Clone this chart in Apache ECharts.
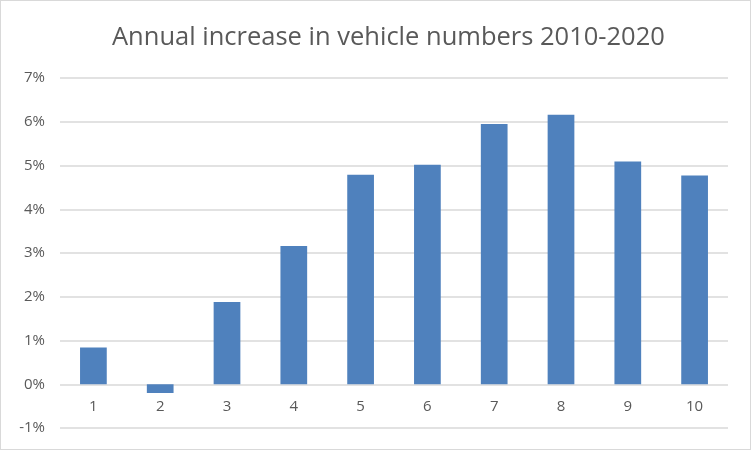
<!DOCTYPE html>
<html>
<head>
<meta charset="utf-8">
<script src="https://cdn.jsdelivr.net/npm/echarts@6/dist/echarts.min.js"></script>
<style>
html,body{margin:0;padding:0;background:#fff;}
#chart{width:752px;height:452px;position:absolute;left:0;top:0;}
#frame{position:absolute;left:0;top:0;width:749px;height:448px;border:1.5px solid #d9d9d9;pointer-events:none;}
</style>
</head>
<body>
<div id="chart"></div>
<div id="frame"></div>
<script>
const titleText = 'Annual increase in vehicle numbers 2010-2020';
const categories = ['1','2','3','4','5','6','7','8','9','10'];
const increasePct = [0.84, -0.2, 1.88, 3.16, 4.79, 5.02, 5.95, 6.16, 5.09, 4.77];
const yTicks = {min: -1, max: 7, interval: 1};

const chart = echarts.init(document.getElementById('chart'));
chart.setOption({
  animation: false,
  backgroundColor: '#ffffff',
  title: {
    text: titleText,
    left: 107,
    top: 20,
    textStyle: {fontFamily: 'Open Sans', fontSize: 25.5, fontWeight: 'normal', color: '#595959'}
  },
  grid: {left: 60, right: 24, top: 78, bottom: 24, containLabel: false, outerBoundsMode: 'none'},
  xAxis: {
    type: 'category',
    data: categories,
    position: 'bottom',
    axisLine: {show: false, onZero: false},
    axisTick: {show: false},
    axisLabel: {margin: -29, fontFamily: 'Open Sans', fontSize: 15, color: '#595959'}
  },
  yAxis: {
    type: 'value',
    min: yTicks.min,
    max: yTicks.max,
    interval: yTicks.interval,
    axisLine: {show: false},
    axisTick: {show: false},
    axisLabel: {margin: 15, fontFamily: 'Open Sans', fontSize: 15, color: '#595959', formatter: '{value}%'},
    splitLine: {lineStyle: {color: '#d9d9d9', width: 1.5}}
  },
  series: [{
    type: 'bar',
    data: increasePct,
    barWidth: '40%',
    itemStyle: {color: '#4f81bd'}
  }]
});
</script>
</body>
</html>
